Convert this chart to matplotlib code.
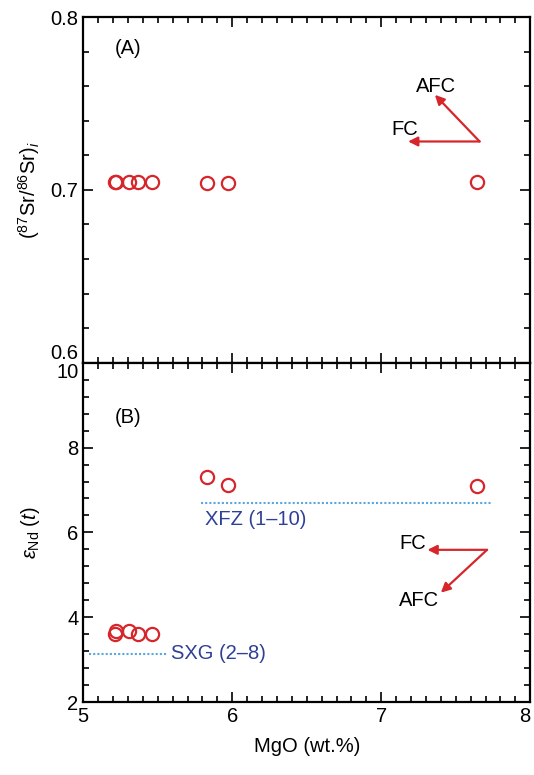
import matplotlib.pyplot as plt
from matplotlib.ticker import MultipleLocator

plt.rcParams['font.family'] = ['Liberation Sans', 'DejaVu Sans']
plt.rcParams['mathtext.fontset'] = 'custom'
plt.rcParams['mathtext.rm'] = 'Liberation Sans'
plt.rcParams['mathtext.it'] = 'Liberation Sans:italic'

# data
mgo = [5.21, 5.22, 5.31, 5.37, 5.46, 5.83, 5.97, 7.64]
sr_i = [0.7045, 0.7045, 0.7047, 0.7044, 0.7045, 0.7039, 0.7038, 0.7046]
end_t = [3.60, 3.68, 3.68, 3.60, 3.60, 7.31, 7.12, 7.10]

# reference fields (dotted lines)
xfz_y = 6.7
xfz_x = [5.79, 7.74]
sxg_y = 3.14
sxg_x = [5.04, 5.56]

red = '#d7262b'
blue = '#2e3f96'
lblue = '#5aa7de'
fs = 14.5

fig = plt.figure(figsize=(5.34, 7.75), dpi=100)
ax1 = fig.add_axes([0.156, 0.532, 0.837, 0.446])
ax2 = fig.add_axes([0.156, 0.094, 0.837, 0.438])


def style(ax):
    ax.set_xlim(5, 8)
    ax.set_xticks([5, 6, 7, 8])
    ax.set_xticklabels(['5', '6', '7', '8'])
    ax.xaxis.set_minor_locator(MultipleLocator(0.1))
    ax.tick_params(which='both', direction='in', top=True, right=True,
                   labelsize=fs, width=1.2)
    ax.tick_params(which='major', length=7)
    ax.tick_params(which='minor', length=4)
    for s in ax.spines.values():
        s.set_linewidth(1.6)


# (A) Sr isotopes
style(ax1)
ax1.set_ylim(0.6, 0.8)
ax1.set_yticks([0.6, 0.7, 0.8])
ax1.set_yticklabels(['0.6', '0.7', '0.8'])
ax1.yaxis.set_minor_locator(MultipleLocator(0.02))
ax1.tick_params(labelbottom=False)
ax1.get_yticklabels()[0].set_verticalalignment('bottom')
ax1.plot(mgo, sr_i, 'o', mfc='none', mec=red, ms=9.5, mew=1.6)
ax1.set_ylabel(r'($^{87}$Sr/$^{86}$Sr)$_i$', fontsize=fs, labelpad=6)
ax1.text(5.3, 0.782, '(A)', fontsize=fs, ha='center', va='center')

arr = dict(arrowstyle='-|>', color=red, lw=1.6, mutation_scale=14,
           shrinkA=0, shrinkB=0)
ax1.annotate('', xy=(7.18, 0.728), xytext=(7.66, 0.728), arrowprops=arr)
ax1.annotate('', xy=(7.36, 0.755), xytext=(7.66, 0.728), arrowprops=arr)
ax1.text(7.16, 0.735, 'FC', fontsize=fs, ha='center', va='center')
ax1.text(7.37, 0.760, 'AFC', fontsize=fs, ha='center', va='center')

# (B) Nd isotopes
style(ax2)
ax2.set_ylim(2, 10)
ax2.set_yticks([2, 4, 6, 8, 10])
ax2.set_yticklabels(['2', '4', '6', '8', '10'])
ax2.yaxis.set_minor_locator(MultipleLocator(0.4))
ax2.get_yticklabels()[-1].set_verticalalignment('top')
ax2.get_xticklabels()[-1].set_horizontalalignment('right')
ax2.plot(mgo, end_t, 'o', mfc='none', mec=red, ms=9.5, mew=1.6)
ax2.plot(xfz_x, [xfz_y, xfz_y], linestyle=(0, (1, 1)), color=lblue, lw=1.5)
ax2.plot(sxg_x, [sxg_y, sxg_y], linestyle=(0, (1, 1)), color=lblue, lw=1.5)
ax2.text(5.82, 6.3, 'XFZ (1–10)', fontsize=fs, color=blue, va='center')
ax2.text(5.59, 3.14, 'SXG (2–8)', fontsize=fs, color=blue, va='center')
ax2.text(5.3, 8.72, '(B)', fontsize=fs, ha='center', va='center')
ax2.set_ylabel(r'$\varepsilon_{\rm Nd}$ ($t$)', fontsize=fs, labelpad=10)
ax2.set_xlabel('MgO (wt.%)', fontsize=fs, labelpad=8)

ax2.annotate('', xy=(7.31, 5.59), xytext=(7.71, 5.59), arrowprops=arr)
ax2.annotate('', xy=(7.40, 4.58), xytext=(7.71, 5.59), arrowprops=arr)
ax2.text(7.21, 5.73, 'FC', fontsize=fs, ha='center', va='center')
ax2.text(7.25, 4.39, 'AFC', fontsize=fs, ha='center', va='center')

fig.savefig('out.png', dpi=100)
